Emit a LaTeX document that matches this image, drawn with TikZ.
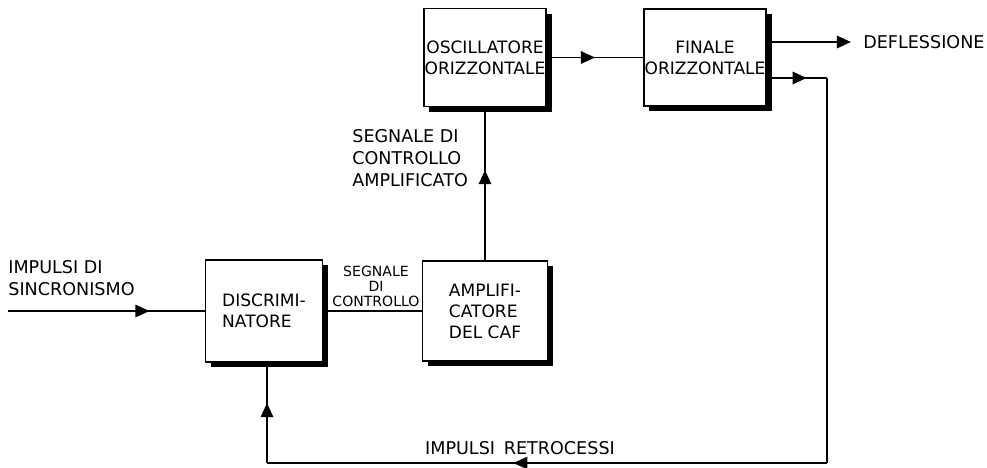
\documentclass[tikz,border=0pt]{standalone}
\usepackage{fontspec}
\setmainfont{DejaVu Sans}
\usetikzlibrary{arrows.meta, positioning, shadows, decorations.markings}
\tikzstyle{cbox}=[rectangle, draw=black, fill=white, line width=1.1pt,
  align=center, font=\fontsize{9.7}{12}\selectfont, inner xsep=0.5pt,
  general shadow={fill=black, shadow xshift=3pt, shadow yshift=-3pt}]
\tikzstyle{wire}=[line width=1.1pt]
\tikzstyle{lbl}=[font=\fontsize{10}{12.5}\selectfont, inner sep=0pt]
\tikzset{midarr/.style={wire, postaction={decorate, decoration={markings,
  mark=at position #1 with {\arrow{Triangle[length=8pt, width=7pt]}}}}}}

\begin{document}
\begin{tikzpicture}[x=0.02cm, y=-0.02cm]
        \useasboundingbox (0,0) rectangle (987,467);
        \node[cbox, minimum width=2.42cm, minimum height=1.96cm]
          (osc) at (485,57.5) {OSCILLATORE\\ORIZZONTALE};
        \node[cbox, minimum width=2.40cm, minimum height=1.94cm]
          (fin) at (705,57.5) {FINALE\\ORIZZONTALE};
        \node[cbox, align=left, minimum width=2.34cm, minimum height=2.04cm]
          (disc) at (264,311) {DISCRIMI-\\NATORE};
        \node[cbox, align=left, minimum width=2.50cm, minimum height=2.00cm]
          (ampl) at (485,311) {AMPLIFI-\\CATORE\\DEL CAF};
        % labels
        \node[lbl, anchor=west, align=left] (sinc) at (8,278) {IMPULSI DI\\SINCRONISMO};
        \node[lbl, anchor=south, align=center, font=\fontsize{8}{8.5}\selectfont]
          (sctrl) at (376,307) {SEGNALE\\DI\\CONTROLLO};
        \node[lbl, anchor=west, align=left] (sampl) at (352,158) {SEGNALE DI\\CONTROLLO\\AMPLIFICATO};
        \node[lbl] (retro) at (520,448) {IMPULSI\enspace RETROCESSI};
        \node[lbl, anchor=west] (defl) at (863,42) {DEFLESSIONE};
        \coordinate (in) at (8,311);
        \coordinate (dout) at (851,42);
        \coordinate (fb1) at (827,78);
        \coordinate (fb2) at (827,463);
        \coordinate (fb3) at (267,463);
        % connectors
        \draw[midarr=0.72] (in) -- (in -| disc.west);
        \draw[wire] (disc.east) -- (ampl.west);
        \draw[midarr=0.59] (ampl.north) -- (osc.south);
        \draw[midarr=0.5] (osc.east) -- (fin.west);
        \draw[wire, -{Triangle[length=8pt, width=7pt]}] (fin.east |- dout) -- (dout);
        \draw[midarr=0.66] (fin.east |- fb1) -- (fb1);
        \draw[wire] (fb1) -- (fb2);
        \draw[midarr=0.56] (fb2) -- (fb3);
        \draw[midarr=0.6] (fb3) -- (fb3 |- disc.south);
      \end{tikzpicture}
\end{document}
